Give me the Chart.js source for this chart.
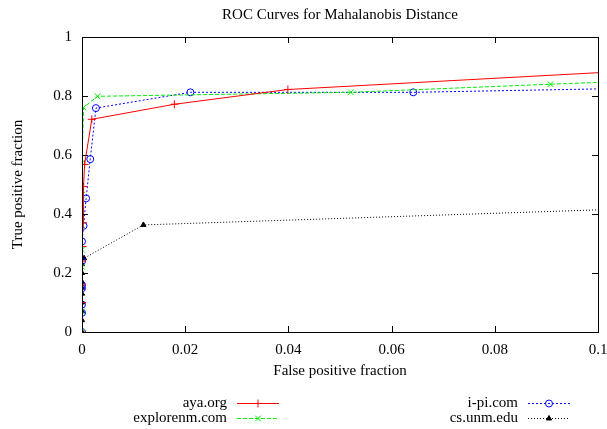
<!DOCTYPE html>
<html>
<head>
<meta charset="utf-8">
<script src="https://cdn.jsdelivr.net/npm/chart.js@4.4.1/dist/chart.umd.min.js"></script>
<style>
  html, body { margin: 0; padding: 0; background: #fff; }
  #wrap { width: 607px; height: 429px; }
</style>
</head>
<body>
<div id="wrap"><canvas id="roc"></canvas></div>
<script>
// values (false positive fraction / true positive fraction)
var ayaX = [0, 0, 0, 0, 0.0001, 0.0002, 0.0003, 0.0005, 0.0019, 0.0179, 0.0399, 0.1];
var ayaY = [0, 0.1, 0.16, 0.24, 0.29, 0.37, 0.493, 0.568, 0.721, 0.772, 0.822, 0.879];

var exploreX = [0, 0, 0, 0, 0, 0, 0, 0.0003, 0.003, 0.0521, 0.0908, 0.1];
var exploreY = [0, 0.07, 0.221, 0.279, 0.363, 0.465, 0.574, 0.761, 0.799, 0.8125, 0.84, 0.846];

var ipiX = [0, 0, 0, 0, 0, 0, 0, 0.0003, 0.0008, 0.0016, 0.0027, 0.021, 0.0642, 0.1];
var ipiY = [0, 0.065, 0.093, 0.148, 0.159, 0.24, 0.307, 0.36, 0.453, 0.586, 0.759, 0.8125, 0.8125, 0.824];

var csX = [0, 0, 0, 0, 0, 0, 0, 0, 0, 0.0004, 0.0119, 0.1];
var csY = [0, 0.04, 0.07, 0.1, 0.13, 0.15, 0.17, 0.2, 0.23, 0.25, 0.363, 0.414];

var xTicks = [0, 0.02, 0.04, 0.06, 0.08, 0.1];
var yTicks = [0, 0.2, 0.4, 0.6, 0.8, 1];

var chartTitle = 'ROC Curves for Mahalanobis Distance';
var serif = "'Liberation Serif', 'DejaVu Serif', serif";

function pts(xs, ys) {
  return xs.map(function (x, i) { return { x: x, y: ys[i] }; });
}

// last point sits on the right border, where the curve is cut: no marker there
function hideLast(r) {
  return function (c) { return c.dataIndex === c.dataset.data.length - 1 ? 0 : r; };
}

var ds = [
  { label: 'aya.org', data: pts(ayaX, ayaY), borderColor: '#ff0000', backgroundColor: '#ff0000',
    borderDash: [], pointStyle: 'cross', pointRadius: hideLast(4), pointBorderWidth: 1, legendCol: 0, legendRow: 0 },
  { label: 'explorenm.com', data: pts(exploreX, exploreY), borderColor: '#00f000', backgroundColor: '#00f000',
    borderDash: [4, 2], pointStyle: 'crossRot', pointRadius: hideLast(4), pointBorderWidth: 1, legendCol: 0, legendRow: 1 },
  { label: 'i-pi.com', data: pts(ipiX, ipiY), borderColor: '#0000ff', backgroundColor: 'rgba(0,0,0,0)',
    borderDash: [2, 2], pointStyle: 'circle', pointRadius: hideLast(3.5), pointBorderWidth: 1, legendCol: 1, legendRow: 0 },
  { label: 'cs.unm.edu', data: pts(csX, csY), borderColor: '#000000', backgroundColor: '#000000',
    borderDash: [1, 2], pointStyle: 'triangle', pointRadius: hideLast(3), pointBorderWidth: 1, legendCol: 1, legendRow: 1 }
];
ds.forEach(function (d) {
  d.borderWidth = 1;
  d.showLine = true;
  d.tension = 0;
  d.pointBorderColor = d.borderColor;
  d.pointBackgroundColor = d.pointStyle === 'circle' ? 'rgba(0,0,0,0)' : d.borderColor;
  d.pointHoverRadius = 0;
});

// gnuplot-like frame: full box with ticks pointing inwards on all four sides,
// title centred over the plot area rather than the canvas
var frame = {
  id: 'frame',
  afterDatasetsDraw: function (chart) {
    var c = chart.ctx, a = chart.chartArea;
    var xs = chart.scales.x, ys = chart.scales.y;
    c.save();
    c.strokeStyle = '#000';
    c.lineWidth = 1;
    c.beginPath();
    xTicks.forEach(function (v) {
      var px = Math.round(xs.getPixelForValue(v)) + 0.5;
      c.moveTo(px, a.bottom); c.lineTo(px, a.bottom - 6);
      c.moveTo(px, a.top); c.lineTo(px, a.top + 6);
    });
    yTicks.forEach(function (v) {
      var py = Math.round(ys.getPixelForValue(v)) + 0.5;
      c.moveTo(a.left, py); c.lineTo(a.left + 6, py);
      c.moveTo(a.right, py); c.lineTo(a.right - 6, py);
    });
    c.stroke();
    c.strokeRect(Math.round(a.left) + 0.5, Math.round(a.top) + 0.5,
      Math.round(a.right - a.left), Math.round(a.bottom - a.top));

    c.fillStyle = '#000';
    c.font = '15px ' + serif;
    c.textAlign = 'center';
    c.textBaseline = 'middle';
    c.fillText(chartTitle, (a.left + a.right) / 2, 15);
    c.restore();
  }
};

// two-column key under the plot, text right aligned before the line sample
var key = {
  id: 'key',
  afterDraw: function (chart) {
    var c = chart.ctx;
    var textRight = [227, 518], rowY = [403, 418];
    c.save();
    c.font = '15px ' + serif;
    c.textAlign = 'right';
    c.textBaseline = 'middle';
    chart.data.datasets.forEach(function (d) {
      var tx = textRight[d.legendCol], y = rowY[d.legendRow];
      c.fillStyle = '#000';
      c.fillText(d.label, tx, y);
      var x0 = tx + 10, x1 = tx + 52;
      c.strokeStyle = d.borderColor;
      c.lineWidth = 1;
      c.setLineDash(d.borderDash);
      c.beginPath();
      c.moveTo(x0, y + 0.5); c.lineTo(x1, y + 0.5);
      c.stroke();
      c.setLineDash([]);
      c.fillStyle = d.pointBackgroundColor;
      Chart.helpers.drawPoint(c, {
        pointStyle: d.pointStyle,
        radius: d.pointStyle === 'triangle' ? 3 : (d.pointStyle === 'circle' ? 3.5 : 4),
        rotation: 0,
        borderWidth: 1
      }, (x0 + x1) / 2, y + 0.5);
    });
    c.restore();
  }
};

new Chart(document.getElementById('roc'), {
  type: 'scatter',
  data: { datasets: ds },
  options: {
    responsive: true,
    maintainAspectRatio: false,
    animation: false,
    events: [],
    layout: { padding: { top: 37, right: 9, bottom: 49, left: 0 } },
    plugins: {
      legend: { display: false },
      tooltip: { enabled: false },
      title: { display: false }
    },
    scales: {
      x: {
        type: 'linear',
        min: 0, max: 0.1,
        // the "0.1" label may run off the canvas, as in the original
        afterFit: function (s) { s.height = 48; s.paddingLeft = 0; s.paddingRight = 0; },
        afterBuildTicks: function (s) { s.ticks = xTicks.map(function (v) { return { value: v }; }); },
        grid: { display: false, drawTicks: false },
        border: { display: false },
        ticks: { color: '#000', padding: 9, font: { family: serif, size: 15 }, maxRotation: 0,
          callback: function (v) { return String(+v.toFixed(2)); } },
        title: { display: true, text: 'False positive fraction', color: '#000',
          font: { family: serif, size: 15 }, padding: { top: 0, bottom: 0 } }
      },
      y: {
        type: 'linear',
        min: 0, max: 1,
        afterFit: function (s) { s.width = 82; s.paddingTop = 0; s.paddingBottom = 0; },
        afterBuildTicks: function (s) { s.ticks = yTicks.map(function (v) { return { value: v }; }); },
        grid: { display: false, drawTicks: false },
        border: { display: false },
        ticks: { color: '#000', padding: 10, font: { family: serif, size: 15 },
          callback: function (v) { return String(+v.toFixed(1)); } },
        title: { display: true, text: 'True positive fraction', color: '#000',
          font: { family: serif, size: 15 }, padding: { top: 9, bottom: 0 } }
      }
    }
  },
  plugins: [frame, key]
});
</script>
</body>
</html>
